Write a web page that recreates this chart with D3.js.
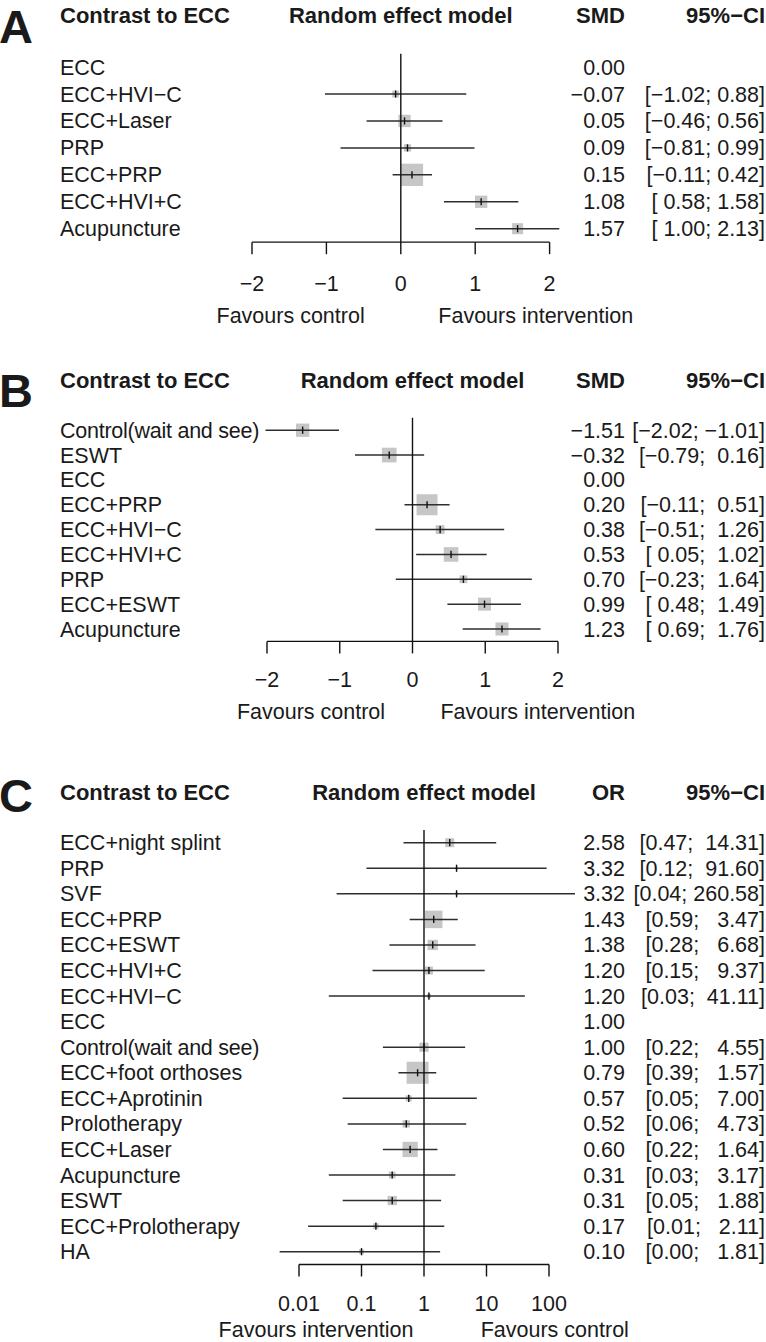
<!DOCTYPE html>
<html>
<head>
<meta charset="utf-8">
<script src="https://cdn.jsdelivr.net/npm/d3@7"></script>
<style>
  html, body { margin: 0; padding: 0; background: #fff; }
  svg { display: block; }
  text { font-family: "Liberation Sans", Arial, Helvetica, sans-serif; fill: #1a1a1a; }
</style>
</head>
<body>
<svg id="chart" width="766" height="1342"></svg>
<script>
// ---------------- DATA ----------------
// Panel A (SMD)
const catsA = ["ECC", "ECC+HVI−C", "ECC+Laser", "PRP", "ECC+PRP", "ECC+HVI+C", "Acupuncture"];
const estA  = [0.00, -0.07, 0.05, 0.09, 0.15, 1.08, 1.57];
const lowA  = [null, -1.02, -0.46, -0.81, -0.11, 0.58, 1.00];
const upA   = [null, 0.88, 0.56, 0.99, 0.42, 1.58, 2.13];
const wtA   = [null, 9, 30, 10.5, 98, 30, 24];
const ticksA = [-2, -1, 0, 1, 2];

// Panel B (SMD)
const catsB = ["Control(wait and see)", "ESWT", "ECC", "ECC+PRP", "ECC+HVI−C", "ECC+HVI+C", "PRP", "ECC+ESWT", "Acupuncture"];
const estB  = [-1.51, -0.32, 0.00, 0.20, 0.38, 0.53, 0.70, 0.99, 1.23];
const lowB  = [-2.02, -0.79, null, -0.11, -0.51, 0.05, -0.23, 0.48, 0.69];
const upB   = [-1.01, 0.16, null, 0.51, 1.26, 1.02, 1.64, 1.49, 1.76];
const wtB   = [35, 42.7, null, 87, 15.3, 42, 12, 33.4, 33.4];
const ticksB = [-2, -1, 0, 1, 2];

// Panel C (OR, log scale)
const catsC = ["ECC+night splint", "PRP", "SVF", "ECC+PRP", "ECC+ESWT", "ECC+HVI+C", "ECC+HVI−C", "ECC",
               "Control(wait and see)", "ECC+foot orthoses", "ECC+Aprotinin", "Prolotherapy", "ECC+Laser",
               "Acupuncture", "ESWT", "ECC+Prolotherapy", "HA"];
const estC  = [2.58, 3.32, 3.32, 1.43, 1.38, 1.20, 1.20, 1.00, 1.00, 0.79, 0.57, 0.52, 0.60, 0.31, 0.31, 0.17, 0.10];
const lowC  = [0.47, 0.12, 0.04, 0.59, 0.28, 0.15, 0.03, null, 0.22, 0.39, 0.05, 0.06, 0.22, 0.03, 0.05, 0.014, 0.0049];
const upC   = [14.31, 91.60, 260.58, 3.47, 6.68, 9.37, 41.11, null, 4.55, 1.57, 7.00, 4.73, 1.64, 3.17, 1.88, 2.11, 1.81];
const wtC   = [16, 1.8, 1.8, 60.5, 21, 12.6, 3.2, null, 17, 95.6, 7.1, 10.5, 46, 8.9, 17, 6.4, 4.9];
const ticksC = [0.01, 0.1, 1, 10, 100];
const tickLabelsC = ["0.01", "0.1", "1", "10", "100"];

// ---------------- LAYOUT ----------------
const FONT = 21.5;
const svg = d3.select("#chart");

const panels = [
  { letter: "A", letterY: 42.6, headerY: 23, measure: "SMD",
    cats: catsA, est: estA, low: lowA, up: upA, wt: wtA,
    x: d3.scaleLinear().domain([-2, 2]).range([252, 549.6]), ref: 0,
    ticks: ticksA, tickLabels: ticksA.map(t => t < 0 ? "−" + Math.abs(t) : String(t)),
    rowRange: [67.1, 228.7], tickLabelY: 283, favY: 315,
    favL: ["Favours control", 290.6], favR: ["Favours intervention", 535.7] },
  { letter: "B", letterY: 406.5, headerY: 387.5, measure: "SMD",
    cats: catsB, est: estB, low: lowB, up: upB, wt: wtB,
    x: d3.scaleLinear().domain([-2, 2]).range([267, 558]), ref: 0,
    ticks: ticksB, tickLabels: ticksB.map(t => t < 0 ? "−" + Math.abs(t) : String(t)),
    rowRange: [430.2, 629], tickLabelY: 679, favY: 711,
    favL: ["Favours control", 311], favR: ["Favours intervention", 537.8] },
  { letter: "C", letterY: 812, headerY: 800, measure: "OR",
    cats: catsC, est: estC, low: lowC, up: upC, wt: wtC,
    x: d3.scaleLog().domain([0.01, 100]).range([299, 549]), ref: 1,
    ticks: ticksC, tickLabels: tickLabelsC,
    rowRange: [842.7, 1251.7], tickLabelY: 1303, favY: 1329.5,
    favL: ["Favours intervention", 316], favR: ["Favours control", 554.8] }
];

const sizeScale = d3.scaleSqrt().domain([0, 100]).range([0, 22.5]);
const fmt = v => (v < 0 ? "−" : "") + Math.abs(v).toFixed(2);

const COL_LABEL = 60, COL_EST = 625, COL_CI = 765;

panels.forEach(p => {
  const g = svg.append("g");
  const y = d3.scalePoint().domain(p.cats).range(p.rowRange);
  const step = y.step();
  const yTop = p.rowRange[0] - step / 2;
  const axisY = p.rowRange[1] + step / 2;

  // Panel letter
  g.append("text").attr("x", -1).attr("y", p.letterY)
    .attr("font-size", 47).attr("font-weight", "bold").text(p.letter);

  // Headers
  const hdr = g.append("g").attr("font-weight", "bold").attr("font-size", 22);
  hdr.append("text").attr("x", COL_LABEL).attr("y", p.headerY).text("Contrast to ECC");
  hdr.append("text").attr("x", p.x(p.ref)).attr("y", p.headerY).attr("text-anchor", "middle").text("Random effect model");
  hdr.append("text").attr("x", COL_EST).attr("y", p.headerY).attr("text-anchor", "end").text(p.measure);
  hdr.append("text").attr("x", COL_CI).attr("y", p.headerY).attr("text-anchor", "end").text("95%−CI");

  const rows = p.cats.map((c, i) => ({ cat: c, est: p.est[i], low: p.low[i], up: p.up[i], wt: p.wt[i] }));
  const lowStr = rows.map(r => r.low == null ? "" : fmt(r.low));
  const upStr = rows.map(r => r.up == null ? "" : fmt(r.up));
  const lw = d3.max(lowStr, s => s.length), uw = d3.max(upStr, s => s.length);

  // Row labels
  g.append("g").attr("font-size", FONT).selectAll("text").data(rows).join("text")
    .attr("x", COL_LABEL).attr("y", d => y(d.cat)).attr("dy", "0.35em")
    .attr("letter-spacing", d => d.cat.length > 18 ? -0.25 : 0)
    .text(d => d.cat);

  // Estimate column
  g.append("g").attr("font-size", FONT).selectAll("text").data(rows).join("text")
    .attr("x", COL_EST).attr("y", d => y(d.cat)).attr("dy", "0.35em").attr("text-anchor", "end")
    .text(d => fmt(d.est));

  // CI column
  g.append("g").attr("font-size", FONT).selectAll("text").data(rows.filter(d => d.low != null)).join("text")
    .attr("x", COL_CI).attr("y", d => y(d.cat)).attr("dy", "0.35em").attr("text-anchor", "end")
    .style("white-space", "pre")
    .text(d => "[" + fmt(d.low).padStart(lw, " ") + "; " + fmt(d.up).padStart(uw, " ") + "]");

  const marks = rows.filter(d => d.wt != null);
  // Squares
  g.append("g").selectAll("rect").data(marks).join("rect")
    .attr("x", d => p.x(d.est) - sizeScale(d.wt) / 2)
    .attr("y", d => y(d.cat) - sizeScale(d.wt) / 2)
    .attr("width", d => sizeScale(d.wt)).attr("height", d => sizeScale(d.wt))
    .attr("fill", "#c6c6c6");
  // CI lines
  g.append("g").attr("stroke", "#2e2e2e").attr("stroke-width", 1.5).selectAll("line").data(marks).join("line")
    .attr("x1", d => p.x(d.low)).attr("x2", d => p.x(d.up))
    .attr("y1", d => y(d.cat)).attr("y2", d => y(d.cat));
  // Estimate ticks
  g.append("g").attr("stroke", "#111").attr("stroke-width", 1.4).selectAll("line").data(marks).join("line")
    .attr("x1", d => p.x(d.est)).attr("x2", d => p.x(d.est))
    .attr("y1", d => y(d.cat) - 3.6).attr("y2", d => y(d.cat) + 3.6);

  // Reference line
  g.append("line").attr("x1", p.x(p.ref)).attr("x2", p.x(p.ref))
    .attr("y1", yTop).attr("y2", axisY).attr("stroke", "#111").attr("stroke-width", 1.4);

  // Axis
  const ax = g.append("g").attr("transform", `translate(0,${axisY})`);
  ax.append("line").attr("x1", p.x(p.ticks[0])).attr("x2", p.x(p.ticks[p.ticks.length - 1]))
    .attr("stroke", "#111").attr("stroke-width", 1.4);
  ax.selectAll("line.tk").data(p.ticks).join("line").attr("class", "tk")
    .attr("x1", d => p.x(d)).attr("x2", d => p.x(d)).attr("y1", 0).attr("y2", 12)
    .attr("stroke", "#111").attr("stroke-width", 1.4);
  g.append("g").attr("font-size", FONT).selectAll("text").data(p.ticks).join("text")
    .attr("x", d => p.x(d)).attr("y", p.tickLabelY).attr("dy", "0.35em").attr("text-anchor", "middle")
    .text((d, i) => p.tickLabels[i]);

  // Favours labels
  g.append("text").attr("font-size", FONT).attr("x", p.favL[1]).attr("y", p.favY).attr("dy", "0.35em")
    .attr("text-anchor", "middle").text(p.favL[0]);
  g.append("text").attr("font-size", FONT).attr("x", p.favR[1]).attr("y", p.favY).attr("dy", "0.35em")
    .attr("text-anchor", "middle").text(p.favR[0]);
});
</script>
</body>
</html>
